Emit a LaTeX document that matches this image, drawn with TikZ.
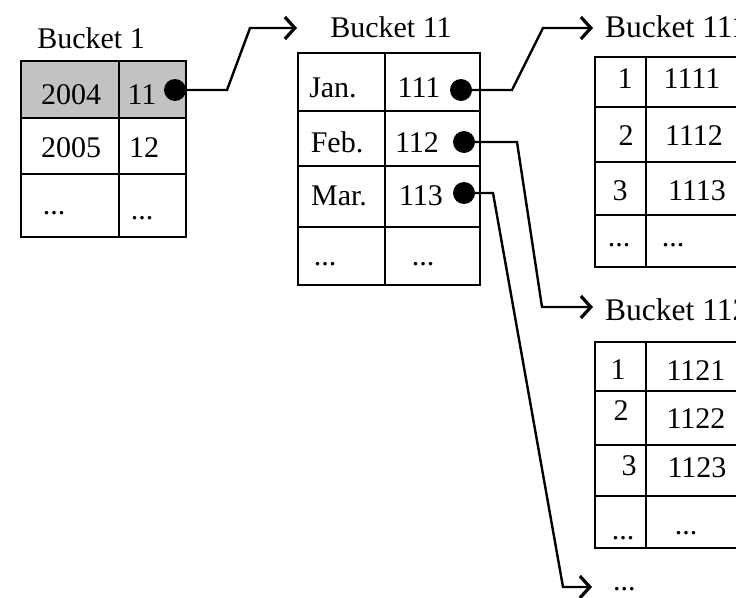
\documentclass[tikz,border=0pt]{standalone}
\usepackage{fontspec}
\setmainfont{Liberation Serif}
\usetikzlibrary{arrows.meta}
\begin{document}
\begin{tikzpicture}[x=1pt,y=-1pt,
  grid/.style={line width=2.8pt, line cap=rect},
  txt/.style={anchor=base, inner sep=0pt, font=\fontsize{30}{36}\selectfont},
  ltxt/.style={txt, anchor=base west, font=\fontsize{31.5}{36}\selectfont},
  ptr/.style={circle, fill=black, inner sep=0pt, minimum size=22pt},
  link/.style={line width=2.4pt, line join=miter,
    -{Straight Barb[length=10pt,width=22pt,line width=3.2pt]}},
]
\useasboundingbox (0,0) rectangle (736,597);
\clip (0,0) rectangle (736,597);

% ---- Bucket 1 ----
\fill[black!24] (21,61) rectangle (186,118);
\draw[grid] (21,61) rectangle (186,237);
\draw[grid] (119,61) -- (119,237);
\draw[grid] (21,118) -- (186,118) (21,174) -- (186,174);
\node[txt] (t1) at (91,48) {Bucket 1};
\node[txt] (b1r1a) at (71,104) {2004};
\node[txt] (b1r1b) at (142,104) {11};
\node[txt] (b1r2a) at (71,157) {2005};
\node[txt] (b1r2b) at (144,157) {12};
\node[txt] (b1r3a) at (54,214) {...};
\node[txt] (b1r3b) at (142,219) {...};
\node[ptr] (d1) at (175,90) {};

% ---- Bucket 11 ----
\draw[grid] (298,53) rectangle (480,285);
\draw[grid] (385,53) -- (385,285);
\draw[grid] (298,111) -- (480,111) (298,166) -- (480,166) (298,227) -- (480,227);
\node[txt] (t11) at (391,37) {Bucket 11};
\node[txt] (b11r1a) at (333,97) {Jan.};
\node[txt] (b11r1b) at (419,97) {111};
\node[txt] (b11r2a) at (337,152) {Feb.};
\node[txt] (b11r2b) at (417,152) {112};
\node[txt] (b11r3a) at (339,205) {Mar.};
\node[txt] (b11r3b) at (421,205) {113};
\node[txt] (b11r4a) at (325,265) {...};
\node[txt] (b11r4b) at (423,265) {...};
\node[ptr] (d111) at (461,90) {};
\node[ptr] (d112) at (464,142) {};
\node[ptr] (d113) at (464,193) {};

% ---- Bucket 111 ----
\draw[grid] (595,57) rectangle (790,267);
\draw[grid] (646,57) -- (646,267);
\draw[grid] (595,107) -- (790,107) (595,162) -- (790,162) (595,215) -- (790,215);
\node[ltxt] (t111) at (605,37) {Bucket 111};
\node[txt] (b111r1a) at (625,88) {1};
\node[txt] (b111r1b) at (692,88) {1111};
\node[txt] (b111r2a) at (626,145) {2};
\node[txt] (b111r2b) at (694,145) {1112};
\node[txt] (b111r3a) at (620,200) {3};
\node[txt] (b111r3b) at (697,200) {1113};
\node[txt] (b111r4a) at (619,246) {...};
\node[txt] (b111r4b) at (673,246) {...};

% ---- Bucket 112 ----
\draw[grid] (595,342) rectangle (790,548);
\draw[grid] (646,342) -- (646,548);
\draw[grid] (595,391) -- (790,391) (595,445) -- (790,445) (595,496) -- (790,496);
\node[ltxt] (t112) at (605,320) {Bucket 112};
\node[txt] (b112r1a) at (618,379) {1};
\node[txt] (b112r1b) at (696,380) {1121};
\node[txt] (b112r2a) at (621,420) {2};
\node[txt] (b112r2b) at (696,428) {1122};
\node[txt] (b112r3a) at (629,475) {3};
\node[txt] (b112r3b) at (697,477) {1123};
\node[txt] (b112r4a) at (623,539) {...};
\node[txt] (b112r4b) at (686,534) {...};

% ---- further buckets ----
\node[txt, anchor=base west] (tmore) at (613,590) {...};

% arrow ends in front of each bucket title
\coordinate (a11) at (297,28);
\coordinate (a111) at (593,28);
\coordinate (a112) at (593,307);
\coordinate (amore) at (592,587);

% ---- pointers ----
\draw[link] (d1) -- (227,90) -- (250,28) -- (a11);
\draw[link] (d111) -- (512,90) -- (543,28) -- (a111);
\draw[link] (d112) -- (517,142) -- (542,307) -- (a112);
\draw[link] (d113) -- (493,193) -- (563,587) -- (amore);
\end{tikzpicture}
\end{document}
